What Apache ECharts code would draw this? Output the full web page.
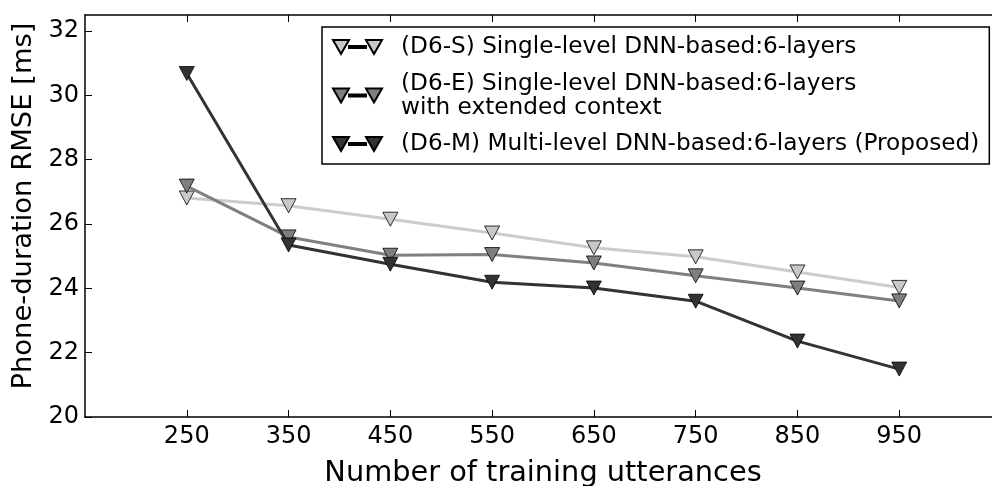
<!DOCTYPE html>
<html>
<head>
<meta charset="utf-8">
<script src="https://cdn.jsdelivr.net/npm/echarts@6/dist/echarts.min.js"></script>
<style>
html,body{margin:0;padding:0;background:#fff;}
#main{width:992px;height:486px;}
</style>
</head>
<body>
<div id="main"></div>
<script>
// ---- data ----
const xValues = [250, 350, 450, 550, 650, 750, 850, 950];
const xTicks = [250, 350, 450, 550, 650, 750, 850, 950];
const yTicks = [20, 22, 24, 26, 28, 30, 32];
const seriesNames = [
  '(D6-S) Single-level DNN-based:6-layers',
  '(D6-E) Single-level DNN-based:6-layers\nwith extended context',
  '(D6-M) Multi-level DNN-based:6-layers (Proposed)'
];
const d6S = [26.81, 26.57, 26.15, 25.72, 25.26, 24.98, 24.51, 24.03];
const d6E = [27.18, 25.60, 25.03, 25.05, 24.79, 24.39, 24.01, 23.61];
const d6M = [30.68, 25.35, 24.75, 24.19, 24.01, 23.60, 22.36, 21.49];
const xTitle = 'Number of training utterances';
const yTitle = 'Phone-duration RMSE [ms]';

// ---- styling ----
const FONT = 'DejaVu Sans';
const colors = [
  {line: '#cccccc', fill: '#c8c8c8'},
  {line: '#808080', fill: '#7f7f7f'},
  {line: '#333333', fill: '#333333'}
];
const legendIcon = 'path://M0 1L16 1L8 15ZM16 7L33 7L33 9L16 9ZM33 1L49 1L41 15Z';

function pairs(vals) { return xValues.map((x, i) => [x, vals[i]]); }

const allSeries = [d6S, d6E, d6M].map((vals, i) => ({
  name: seriesNames[i],
  type: 'line',
  data: pairs(vals),
  symbol: 'triangle',
  symbolRotate: 180,
  symbolSize: [15, 14],
  lineStyle: {color: colors[i].line, width: 3},
  itemStyle: {color: colors[i].fill, borderColor: '#000', borderWidth: 0.8},
  z: 2 + i,
  animation: false
}));

const chart = echarts.init(document.getElementById('main'), null, {renderer: 'canvas'});
chart.setOption({
  backgroundColor: '#fff',
  animation: false,
  textStyle: {fontFamily: FONT},
  grid: {left: 85, right: -9, top: 15, bottom: 69, containLabel: false, outerBoundsMode: 'none'},
  legend: {
    orient: 'vertical',
    left: 322,
    top: 27,
    padding: [8, 10, 8, 10],
    itemGap: 12.5,
    itemWidth: 49,
    itemHeight: 16,
    icon: legendIcon,
    borderColor: '#000',
    borderWidth: 1.5,
    backgroundColor: '#fff',
    textStyle: {fontFamily: FONT, fontSize: 23.2, lineHeight: 24, color: '#000', padding: [0, 0, 0, 14]},
    data: seriesNames
  },
  xAxis: [{
    type: 'value',
    min: 150,
    max: 1050,
    position: 'bottom',
    name: xTitle,
    nameLocation: 'middle',
    nameGap: 42,
    nameTextStyle: {fontFamily: FONT, fontSize: 28.8, color: '#000'},
    axisLine: {show: true, lineStyle: {color: '#000', width: 1.5}},
    axisTick: {show: true, inside: true, length: 7, customValues: xTicks, lineStyle: {color: '#000', width: 1}},
    axisLabel: {show: true, customValues: xTicks, margin: 8, fontFamily: FONT, fontSize: 24, color: '#000'},
    splitLine: {show: false}
  }, {
    type: 'value',
    min: 150,
    max: 1050,
    position: 'top',
    axisLine: {show: true, lineStyle: {color: '#000', width: 1.5}},
    axisTick: {show: true, inside: true, length: 7, customValues: xTicks, lineStyle: {color: '#000', width: 1}},
    axisLabel: {show: false},
    splitLine: {show: false}
  }],
  yAxis: [{
    type: 'value',
    min: 20,
    max: 32.5,
    position: 'left',
    name: yTitle,
    nameLocation: 'middle',
    nameGap: 45,
    nameTextStyle: {fontFamily: FONT, fontSize: 27.4, color: '#000', padding: [0, 0, 0, 20]},
    axisLine: {show: true, lineStyle: {color: '#000', width: 1.5}},
    axisTick: {show: true, inside: true, length: 7, customValues: yTicks, lineStyle: {color: '#000', width: 1}},
    axisLabel: {show: true, customValues: yTicks, margin: 6, fontFamily: FONT, fontSize: 24, color: '#000'},
    splitLine: {show: false}
  }],
  series: allSeries
});
</script>
</body>
</html>
